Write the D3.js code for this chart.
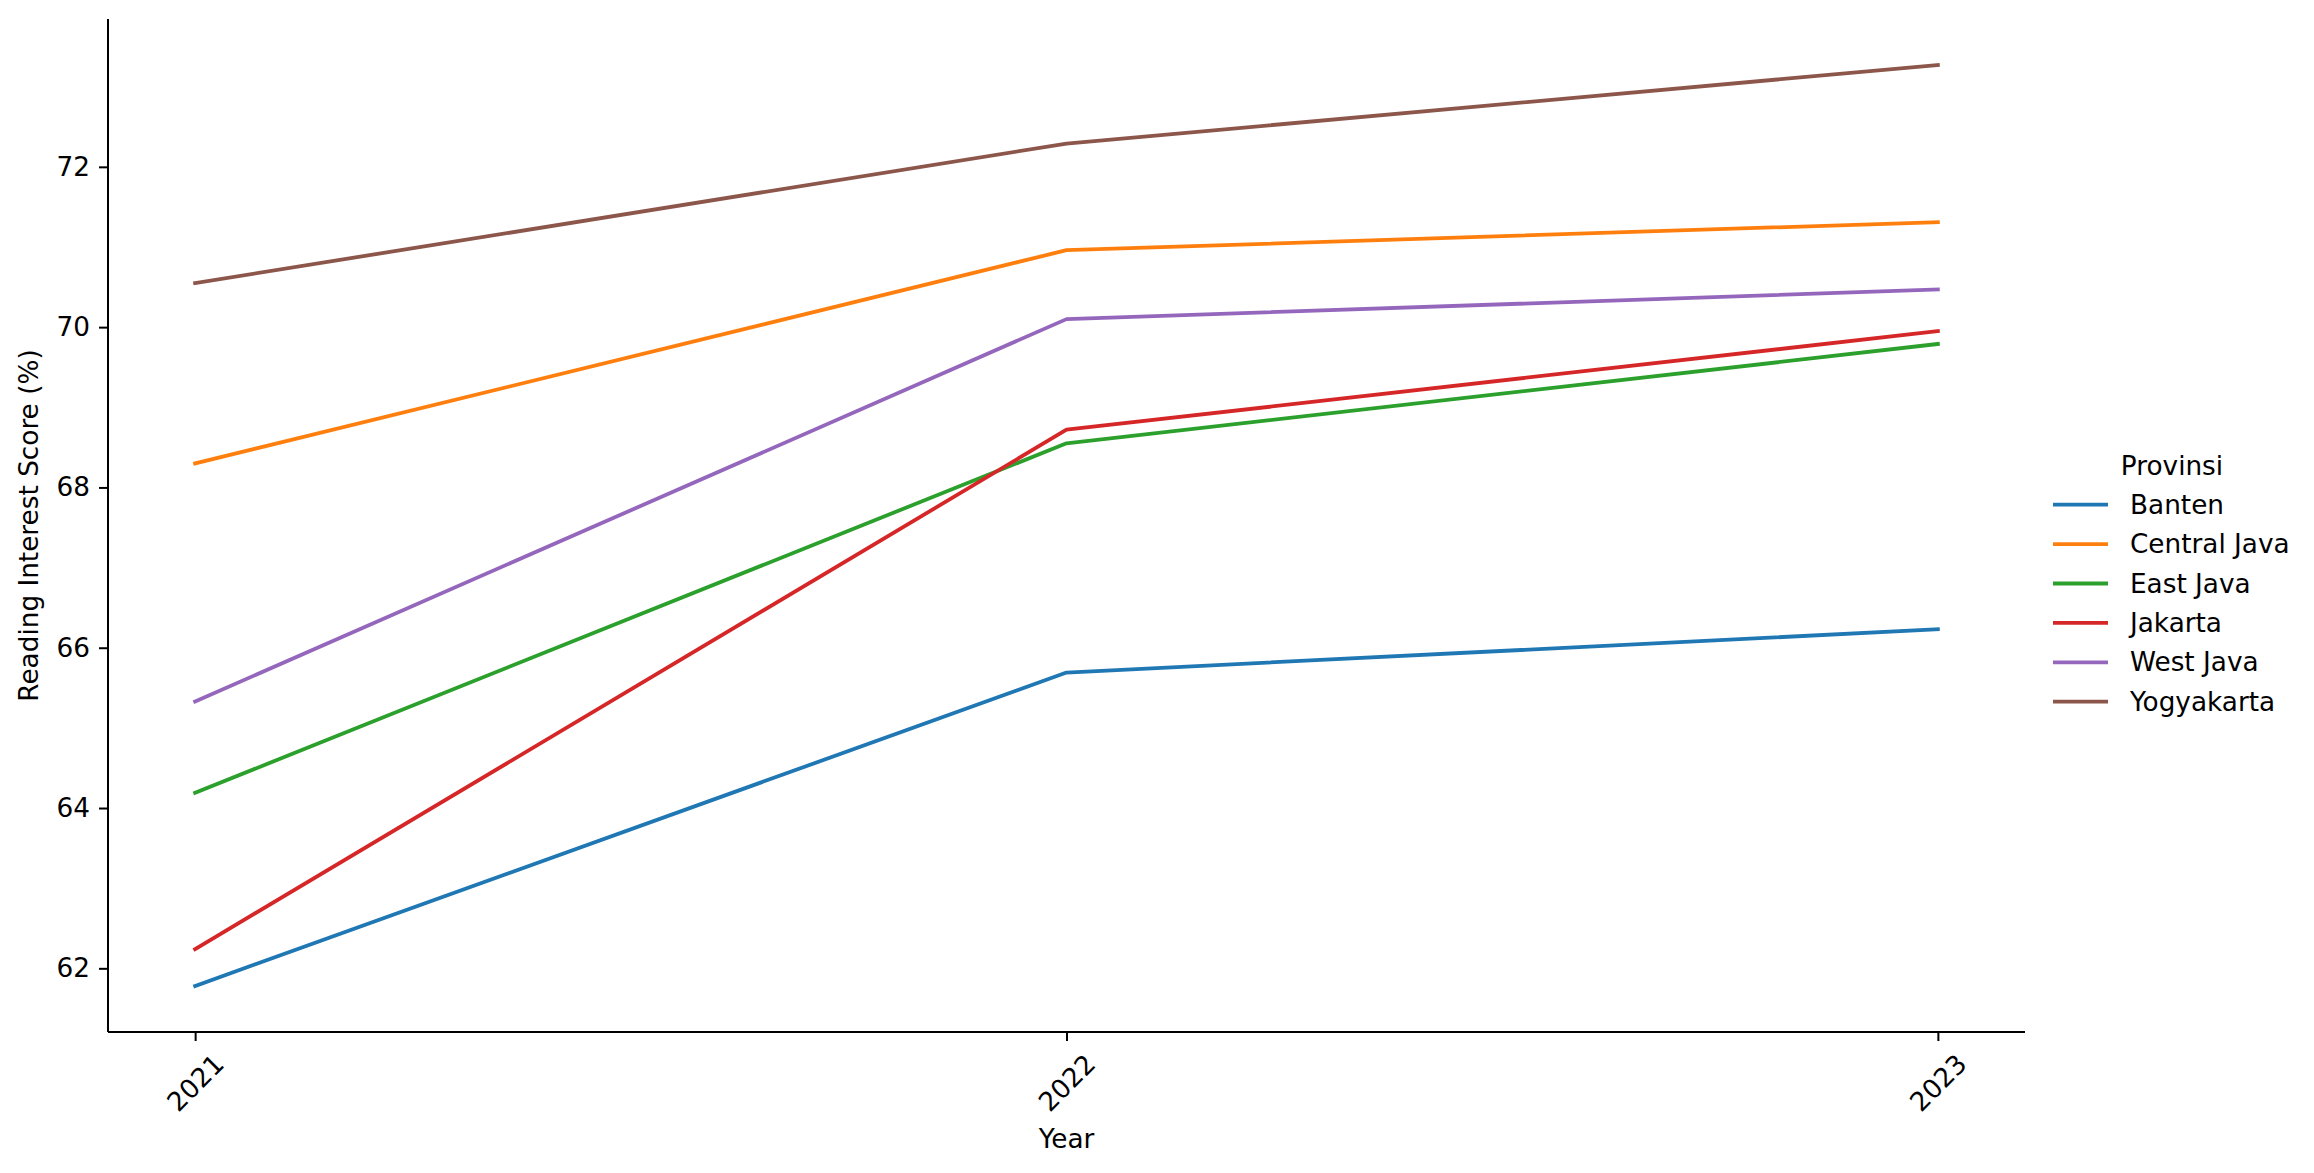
<!DOCTYPE html>
<html>
<head>
<meta charset="utf-8">
<script src="https://cdn.jsdelivr.net/npm/d3@7"></script>
<style>
  html, body { margin: 0; padding: 0; background: #fff; }
  svg { display: block; font-family: "DejaVu Sans", sans-serif; }
</style>
</head>
<body>
<svg id="chart" width="2314" height="1173"></svg>
<script>
// ---- data ----
const years = [2021, 2022, 2023];
const provinces = ["Banten", "Central Java", "East Java", "Jakarta", "West Java", "Yogyakarta"];
const banten      = [61.78, 65.69, 66.23];
const centralJava = [68.30, 70.96, 71.31];
const eastJava    = [64.19, 68.55, 69.79];
const jakarta     = [62.24, 68.72, 69.95];
const westJava    = [65.33, 70.10, 70.47];
const yogyakarta  = [70.55, 72.29, 73.27];
const seriesValues = [banten, centralJava, eastJava, jakarta, westJava, yogyakarta];
const yTicks = [62, 64, 66, 68, 70, 72];
const colors = ["#1f77b4", "#ff7f0e", "#2ca02c", "#d62728", "#9467bd", "#8c564b"];

const xLabel = "Year";
const yLabel = "Reading Interest Score (%)";
const legendTitle = "Provinsi";

(function () {
// ---- layout ----
const svg = d3.select("#chart");
const fontSize = 26.3;
const pLeft = 108, pRight = 2025, pTop = 19, pBottom = 1032;

const allVals = seriesValues.flat();
const vmin = d3.min(allVals), vmax = d3.max(allVals);
const vpad = (vmax - vmin) * 0.05;
const xpad = (years[years.length - 1] - years[0]) * 0.05;

const x = d3.scaleLinear()
  .domain([years[0] - xpad, years[years.length - 1] + xpad])
  .range([pLeft, pRight]);
const y = d3.scaleLinear()
  .domain([vmin - vpad, vmax + vpad])
  .range([pBottom, pTop]);

// lines
const line = d3.line().x((d, i) => x(years[i])).y(d => y(d));
svg.append("g").selectAll("path")
  .data(seriesValues)
  .join("path")
  .attr("d", d => line(d))
  .attr("fill", "none")
  .attr("stroke", (d, i) => colors[i])
  .attr("stroke-width", 3.8)
  .attr("stroke-linejoin", "round")
  .attr("stroke-linecap", "square");

// y axis
const yAxis = svg.append("g")
  .attr("transform", `translate(${pLeft},0)`)
  .call(d3.axisLeft(y).tickValues(yTicks).tickFormat(d3.format("d"))
    .tickSize(9).tickPadding(9).tickSizeOuter(0));
yAxis.select(".domain").attr("stroke", "#000").attr("stroke-width", 2)
  .attr("d", `M0,${pTop}V${pBottom}`);
yAxis.selectAll(".tick line").attr("stroke", "#000").attr("stroke-width", 2);
yAxis.selectAll(".tick text").attr("font-size", fontSize).attr("fill", "#000")
  .attr("font-family", "DejaVu Sans");

// x axis
const xAxis = svg.append("g")
  .attr("transform", `translate(0,${pBottom})`)
  .call(d3.axisBottom(x).tickValues(years).tickFormat(d3.format("d"))
    .tickSize(9).tickPadding(9).tickSizeOuter(0));
xAxis.select(".domain").attr("stroke", "#000").attr("stroke-width", 2)
  .attr("d", `M${pLeft},0H${pRight}`);
xAxis.selectAll(".tick line").attr("stroke", "#000").attr("stroke-width", 2);
xAxis.selectAll(".tick text")
  .attr("font-size", fontSize).attr("fill", "#000").attr("font-family", "DejaVu Sans")
  .attr("text-anchor", "middle")
  .attr("dominant-baseline", "central")
  .attr("y", 0).attr("dy", null)
  .attr("transform", "translate(0,51) rotate(-45)");

// axis labels
svg.append("text")
  .attr("x", (pLeft + pRight) / 2).attr("y", 1139)
  .attr("text-anchor", "middle").attr("dominant-baseline", "central")
  .attr("font-size", fontSize).attr("fill", "#000")
  .text(xLabel);
svg.append("text")
  .attr("transform", `translate(29,${(pTop + pBottom) / 2}) rotate(-90)`)
  .attr("text-anchor", "middle").attr("dominant-baseline", "central")
  .attr("font-size", fontSize).attr("fill", "#000")
  .text(yLabel);

// legend
const lg = svg.append("g");
lg.append("text")
  .attr("x", 2172).attr("y", 466)
  .attr("text-anchor", "middle").attr("dominant-baseline", "central")
  .attr("font-size", fontSize).attr("fill", "#000")
  .text(legendTitle);
const items = lg.selectAll("g.item").data(provinces).join("g")
  .attr("class", "item")
  .attr("transform", (d, i) => `translate(0,${504.7 + i * 39.4})`);
items.append("line")
  .attr("x1", 2053).attr("x2", 2108).attr("y1", 0).attr("y2", 0)
  .attr("stroke", (d, i) => colors[i]).attr("stroke-width", 3.8);
items.append("text")
  .attr("x", 2130).attr("y", 0)
  .attr("dominant-baseline", "central")
  .attr("font-size", fontSize).attr("fill", "#000")
  .text(d => d);
})();
</script>
</body>
</html>
